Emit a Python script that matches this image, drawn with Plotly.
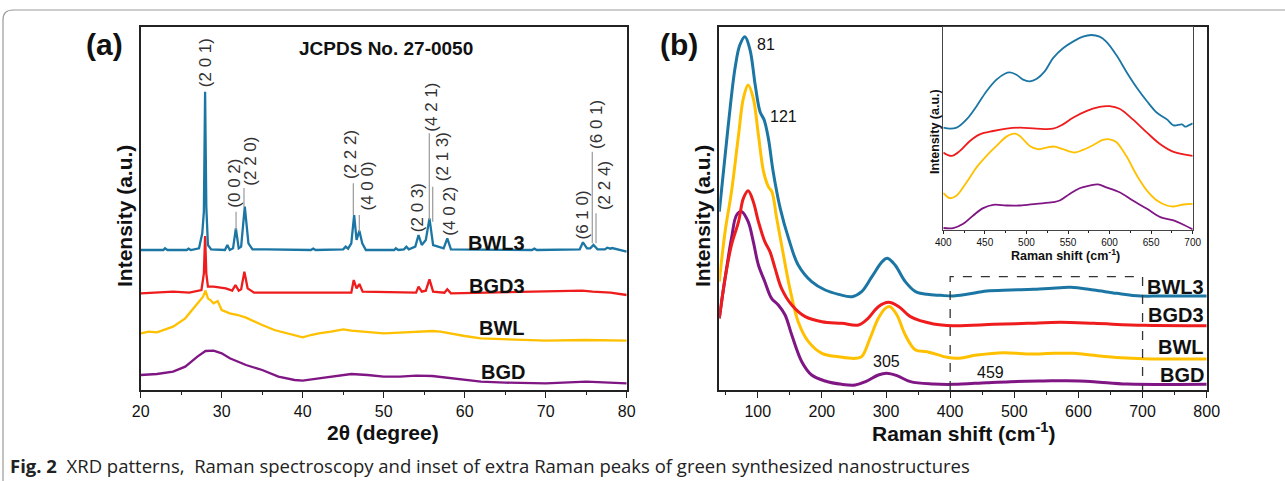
import plotly.graph_objects as go

W, H = 1285, 481

# ---------------- XRD data (panel a) ----------------
xrd_bwl3_x = [20, 22.8, 23.0, 23.3, 25.7, 25.9, 26.2, 27.2, 27.6, 27.8, 27.95, 28.1, 28.3, 28.7,
              30.4, 30.7, 31.0, 31.4, 31.75, 32.1, 32.4, 32.85, 33.3, 33.8, 35.5, 41.0, 41.3, 41.6,
              45.0, 45.3, 45.6, 46.0, 46.35, 46.65, 47.0, 47.35, 47.8, 51.3, 51.5, 51.8, 52.5, 52.8,
              53.1, 53.9, 54.3, 54.7, 55.2, 55.65, 56.1, 57.4, 57.85, 58.3, 68.3, 68.6, 68.9, 74.2,
              74.6, 75.1, 75.5, 75.9, 76.4, 77.3, 77.6, 78.0, 78.2, 80]
xrd_bwl3_y = [420, 420, 425, 420, 420, 424, 420, 425, 470, 535, 895, 550, 435, 422,
              420, 435, 420, 425, 485, 425, 430, 550, 440, 422, 422, 420, 424, 420,
              422, 430, 424, 440, 525, 450, 478, 440, 420, 420, 425, 420, 422, 430,
              422, 430, 465, 435, 450, 515, 435, 425, 455, 422, 420, 424, 420, 422,
              443, 425, 425, 435, 422, 422, 427, 424, 426, 415]

xrd_bgd3_x = [20, 24, 26, 27.5, 27.8, 27.95, 28.1, 28.3, 29, 30.5, 31.3, 31.7, 32.1, 32.4, 32.8,
              33.2, 34, 46.0, 46.3, 46.65, 47.0, 47.4, 54.0, 54.3, 54.7, 55.2, 55.65, 56.1, 57.5,
              57.85, 58.3, 68.6, 74.5, 75.8, 78, 80]
xrd_bgd3_y = [290, 295, 292, 300, 350, 462, 350, 310, 310, 305, 298, 315, 298, 302, 355,
              305, 292, 292, 330, 305, 318, 295, 292, 310, 295, 298, 332, 295, 292,
              302, 290, 295, 298, 295, 292, 285]

xrd_bwl_x = [20, 21, 22, 24, 25.5, 27, 27.7, 28.0, 28.3, 28.6, 29.0, 29.5, 30, 31, 32, 33, 34, 35,
             36.5, 37.8, 38, 39.5, 40, 41, 42, 43.5, 45, 46, 48, 50, 52, 54, 56, 57, 58, 60, 62,
             65, 70, 75, 80]
xrd_bwl_y = [170, 175, 173, 190, 215, 260, 280, 298, 275, 270, 260, 267, 240, 230, 225, 217, 205,
             195, 180, 172, 170, 162, 158, 165, 170, 175, 182, 178, 173, 170, 172, 175, 177, 175,
             170, 162, 155, 152, 148, 150, 148]

xrd_bgd_x = [20, 22, 24, 25.5, 27, 28, 29, 30, 31, 32, 33, 35, 37, 39, 40, 42, 44, 46, 48, 50,
             52, 54, 56, 58, 60, 62, 65, 70, 75, 80]
xrd_bgd_y = [45, 48, 55, 70, 100, 117, 118, 110, 95, 85, 75, 60, 40, 30, 28, 35, 42, 48, 45, 40,
             40, 43, 42, 37, 30, 25, 22, 20, 25, 20]

# hkl labels: text, x, y(center), leader line x, leader y0, leader y1 (None = no line)
hkl_text = ["(2 0 1)", "(0 0 2)", "(2 2 0)", "(2 2 2)", "(4 0 0)", "(2 0 3)", "(4 2 1)",
            "(2 1 3)", "(4 0 2)", "(6 1 0)", "(6 0 1)", "(2 2 4)"]
hkl_x = [28.0, 31.64, 33.45, 45.84, 48.0, 54.17, 55.96, 57.26, 58.18, 74.54, 76.2, 77.2]
hkl_y = [982, 622, 687, 705, 612, 547, 850, 700, 538, 525, 798, 612]
hkl_line_x = [None, 31.77, 32.75, 46.25, 46.99, None, 55.63, 56.05, None, None, 75.75, 76.21]
hkl_line_y0 = [None, 480, 550, 525, 475, None, 510, 505, None, None, 440, 440]
hkl_line_y1 = [None, 535, 606, 620, 525, None, 770, 610, None, None, 715, 530]

# ---------------- Raman data (panel b) ----------------
ram_bwl3_x = [40, 54, 64.5, 72, 80, 88, 96, 103.5, 110, 116.5, 124, 135, 148, 163, 184, 205, 226,
              247, 262, 278, 294, 302, 314, 330, 346, 364, 385, 405, 426, 457, 494, 530, 572, 588,
              624, 660, 697, 728, 800]
ram_bwl3_y = [535, 795, 965, 1035, 1060, 1020, 915, 835, 810, 755, 655, 545, 455, 375, 325, 300,
              287, 280, 295, 340, 385, 395, 375, 325, 295, 287, 284, 282, 287, 297, 300, 302, 307,
              308, 300, 290, 282, 282, 282]

ram_bwl_x = [40, 49, 59, 70, 77.5, 85, 93, 101, 109, 116.5, 122, 129.5, 140, 150, 163, 179, 200,
             226, 252, 262, 275, 288, 299, 306, 317, 330, 346, 364, 395, 411, 442, 483, 520, 562,
             593, 624, 666, 702, 800]
ram_bwl_y = [325, 475, 595, 765, 875, 915, 875, 765, 655, 610, 595, 515, 405, 305, 205, 145, 110,
             100, 95, 100, 155, 215, 245, 250, 225, 165, 120, 115, 98, 95, 105, 112, 108, 110,
             110, 104, 97, 94, 93]

ram_bgd3_x = [40, 49, 59, 70, 77.5, 85, 93, 101, 111, 119, 127, 137, 153, 174, 200, 231, 257, 272,
              288, 304, 320, 338, 374, 405, 468, 520, 572, 624, 702, 800]
ram_bgd3_y = [215, 335, 435, 505, 575, 598, 565, 505, 445, 415, 365, 305, 255, 220, 205, 200, 195,
              215, 250, 263, 250, 220, 198, 193, 197, 200, 203, 200, 194, 193]

ram_bgd_x = [40, 49, 59, 67, 75, 85, 93, 101, 111, 121.5, 132, 142.6, 153, 168.6, 184, 205, 231,
             252, 268, 288, 301, 317, 338, 374, 405, 457, 494, 546, 582, 624, 676, 800]
ram_bgd_y = [215, 335, 455, 525, 535, 505, 445, 375, 325, 275, 255, 225, 165, 85, 45, 27, 17, 15,
             25, 45, 50, 43, 25, 18, 17, 22, 25, 27, 28, 25, 18, 17]

# ---------------- Inset data ----------------
ins_bwl3_x = [400, 408, 416, 428, 440, 452, 464, 474, 480, 488, 496, 504, 512, 522, 532, 544, 556,
              568, 578, 588, 596, 608, 620, 633, 645, 657, 669, 677, 687, 691, 695, 700]
ins_bwl3_y = [305, 302, 305, 330, 370, 415, 450, 468, 472, 465, 450, 445, 452, 475, 515, 545, 565,
              580, 585, 580, 565, 525, 475, 425, 385, 350, 330, 312, 315, 308, 312, 318]
ins_bgd3_x = [400, 410, 420, 432, 444, 460, 476, 492, 512, 532, 544, 556, 572, 588, 600, 612, 628,
              645, 661, 677, 700]
ins_bgd3_y = [230, 220, 235, 265, 285, 295, 302, 305, 302, 302, 315, 335, 355, 368, 370, 362, 330,
              290, 255, 232, 220]
ins_bwl_x = [400, 408, 416, 428, 440, 452, 464, 476, 486, 492, 504, 514, 524, 534, 544, 558, 568,
             580, 592, 600, 608, 620, 633, 645, 657, 669, 677, 689, 700]
ins_bwl_y = [108, 92, 100, 140, 185, 220, 250, 278, 287, 280, 250, 240, 245, 248, 240, 230, 238,
             252, 268, 270, 262, 220, 160, 115, 85, 70, 67, 73, 75]
ins_bgd_x = [400, 412, 424, 436, 448, 460, 476, 492, 512, 532, 540, 552, 564, 576, 586, 596, 612,
             628, 645, 661, 677, 689, 700]
ins_bgd_y = [2, 2, 15, 40, 62, 72, 70, 70, 75, 80, 85, 105, 122, 130, 134, 125, 110, 85, 60, 35,
             25, 12, -2]

series_names = ["BWL3", "BGD3", "BWL", "BGD"]
colors = {"BWL3": "#1b76a4", "BGD3": "#ee1c1c", "BWL": "#ffc000", "BGD": "#7f1684"}

# labels positions
xrd_label_y = [442, 313, 186, 55]
ram_label_y = [310, 225, 130, 45]

FONT = "Arial, Liberation Sans, sans-serif"
INK = "#222222"


def px(xp):
    return xp / W


def py(yp):
    return 1 - yp / H


fig = go.Figure()

xrd = {"BWL3": (xrd_bwl3_x, xrd_bwl3_y), "BGD3": (xrd_bgd3_x, xrd_bgd3_y),
       "BWL": (xrd_bwl_x, xrd_bwl_y), "BGD": (xrd_bgd_x, xrd_bgd_y)}
ram = {"BWL3": (ram_bwl3_x, ram_bwl3_y), "BGD3": (ram_bgd3_x, ram_bgd3_y),
       "BWL": (ram_bwl_x, ram_bwl_y), "BGD": (ram_bgd_x, ram_bgd_y)}
ins = {"BWL3": (ins_bwl3_x, ins_bwl3_y), "BGD3": (ins_bgd3_x, ins_bgd3_y),
       "BWL": (ins_bwl_x, ins_bwl_y), "BGD": (ins_bgd_x, ins_bgd_y)}

for name in ["BGD", "BWL", "BGD3", "BWL3"]:
    xs, ys = xrd[name]
    fig.add_trace(go.Scatter(x=xs, y=ys, mode="lines", line=dict(color=colors[name], width=2.3),
                             xaxis="x", yaxis="y", showlegend=False, hoverinfo="skip"))
for name in ["BGD", "BWL", "BGD3", "BWL3"]:
    xs, ys = ram[name]
    fig.add_trace(go.Scatter(x=xs, y=ys, mode="lines",
                             line=dict(color=colors[name], width=3, shape="spline", smoothing=1.0),
                             xaxis="x2", yaxis="y2", showlegend=False, hoverinfo="skip"))
for name in ["BGD", "BWL", "BGD3", "BWL3"]:
    xs, ys = ins[name]
    fig.add_trace(go.Scatter(x=xs, y=ys, mode="lines",
                             line=dict(color=colors[name], width=1.8, shape="spline", smoothing=1.0),
                             xaxis="x3", yaxis="y3", showlegend=False, hoverinfo="skip"))

ydom = [py(390), py(26.7)]
axis_common = dict(showline=True, mirror=True, linecolor=INK, linewidth=1.5, showgrid=False,
                   zeroline=False, automargin=False)

fig.update_layout(
    width=W, height=H, margin=dict(l=0, r=0, t=0, b=0, pad=0, autoexpand=False),
    paper_bgcolor="white", plot_bgcolor="white",
    font=dict(family=FONT, color="#111"),
    xaxis=dict(domain=[px(140.7), px(626.7)], range=[20, 80], anchor="y",
               tickmode="array", tickvals=[20, 30, 40, 50, 60, 70, 80],
               ticks="outside", ticklen=6, tickwidth=1.3, tickcolor=INK,
               tickfont=dict(size=16, family=FONT, color="#111"),
               minor=dict(ticks="outside", ticklen=3, dtick=5, tick0=20, tickcolor=INK),
               **axis_common),
    yaxis=dict(domain=ydom, range=[0, 1090], anchor="x", showticklabels=False, ticks="",
               **axis_common),
    xaxis2=dict(domain=[px(719.3), px(1206.7)], range=[40, 800], anchor="y2",
                tickmode="array", tickvals=[100, 200, 300, 400, 500, 600, 700, 800],
                ticks="outside", ticklen=6, tickwidth=1.3, tickcolor=INK,
                tickfont=dict(size=16, family=FONT, color="#111"),
                minor=dict(ticks="outside", ticklen=3, dtick=50, tick0=0, tickcolor=INK),
                **axis_common),
    yaxis2=dict(domain=ydom, range=[0, 1090], anchor="x2", showticklabels=False, ticks="",
                **axis_common),
    xaxis3=dict(domain=[px(943.3), px(1192.7)], range=[400, 700], anchor="y3",
                tickmode="array", tickvals=[400, 450, 500, 550, 600, 650, 700],
                ticks="outside", ticklen=3, tickwidth=1, tickcolor=INK,
                tickfont=dict(size=10, family=FONT, color="#111"),
                minor=dict(ticks="outside", ticklen=2, dtick=25, tick0=400, tickcolor=INK),
                showline=True, mirror=True, linecolor="#444", linewidth=1, showgrid=False,
                zeroline=False, automargin=False),
    yaxis3=dict(domain=[py(230), py(26.7)], range=[-4, 610], anchor="x3", showticklabels=False,
                ticks="", showline=True, mirror=True, linecolor="#444", linewidth=1,
                showgrid=False, zeroline=False, automargin=False),
)

shapes = []
# hkl leader lines
for lx, y0, y1 in zip(hkl_line_x, hkl_line_y0, hkl_line_y1):
    if lx is None:
        continue
    shapes.append(dict(type="line", xref="x", yref="y", x0=lx, x1=lx, y0=y0, y1=y1,
                       line=dict(color="#999999", width=1.2)))
# dashed box (three sides) in Raman panel
box_x0, box_x1, box_top = 400, 700, 340
shapes.append(dict(type="path", xref="x2", yref="y2",
                   path=f"M {box_x0},0 L {box_x0},{box_top} L {box_x1},{box_top} L {box_x1},0",
                   line=dict(color="#333333", width=1.3, dash="dash")))
# outer rounded border
shapes.append(dict(type="path", xref="paper", yref="paper",
                   path=f"M {px(3)},{py(481)} L {px(3)},{py(20)} Q {px(3)},{py(10)} {px(13)},{py(10)} L 1,{py(10)}",
                   line=dict(color="#9a9a9a", width=1.2)))

annotations = []
for t, hx, hy in zip(hkl_text, hkl_x, hkl_y):
    annotations.append(dict(xref="x", yref="y", x=hx, y=hy, text=t, textangle=-90,
                            showarrow=False, xanchor="center", yanchor="middle",
                            font=dict(size=17, family=FONT, color="#333")))

for name, ly in zip(series_names, xrd_label_y):
    annotations.append(dict(xref="x", yref="y", x=67.7, y=ly, text=f"<b>{name}</b>",
                            showarrow=False, xanchor="right", yanchor="middle",
                            font=dict(size=20, family=FONT, color="#111")))
for name, ly in zip(series_names, ram_label_y):
    annotations.append(dict(xref="x2", yref="y2", x=798.5, y=ly, text=f"<b>{name}</b>",
                            showarrow=False, xanchor="right", yanchor="middle",
                            font=dict(size=20, family=FONT, color="#111")))

peak_text = ["81", "121", "305", "459"]
peak_x = [112.4, 140, 301.4, 462.6]
peak_y = [1038, 820, 85, 52]
for t, x, y in zip(peak_text, peak_x, peak_y):
    annotations.append(dict(xref="x2", yref="y2", x=x, y=y, text=t, showarrow=False,
                            xanchor="center", yanchor="middle",
                            font=dict(size=16, family=FONT, color="#111")))


def paper_text(x, y, text, size, angle=0, anchor="center"):
    annotations.append(dict(xref="paper", yref="paper", x=px(x), y=py(y), text=text,
                            showarrow=False, xanchor=anchor, yanchor="middle", textangle=angle,
                            font=dict(size=size, family=FONT, color="#111")))


paper_text(104, 44, "<b>(a)</b>", 30)
paper_text(679, 44, "<b>(b)</b>", 30)
paper_text(385.5, 48.3, "<b>JCPDS No. 27-0050</b>", 19)
paper_text(124, 216, "<b>Intensity (a.u.)</b>", 21, angle=-90)
paper_text(702, 216, "<b>Intensity (a.u.)</b>", 21, angle=-90)
paper_text(383, 432, "<b>2θ (degree)</b>", 21)
paper_text(963, 432, "<b>Raman shift (cm<sup>-1</sup>)</b>", 21)
paper_text(935, 132, "<b>Intensity (a.u.)</b>", 12.5, angle=-90)
paper_text(1065.7, 255, "<b>Raman shift (cm<sup>-1</sup>)</b>", 12.5)

annotations.append(dict(xref="paper", yref="paper", x=px(8), y=py(465),
                        text="<b>Fig. 2</b>\u00a0\u00a0XRD patterns,\u00a0\u00a0Raman spectroscopy and inset of extra Raman peaks of green synthesized nanostructures",
                        showarrow=False, xanchor="left", yanchor="middle",
                        font=dict(size=18.5, family="Open Sans, sans-serif", color="#222")))

fig.update_layout(shapes=shapes, annotations=annotations)
fig.write_html("out.html", config={"displayModeBar": False},
               post_script="document.body.style.margin='0';document.body.style.padding='0';"
                           "document.body.style.overflow='hidden';"
                           "document.documentElement.style.overflow='hidden';")
